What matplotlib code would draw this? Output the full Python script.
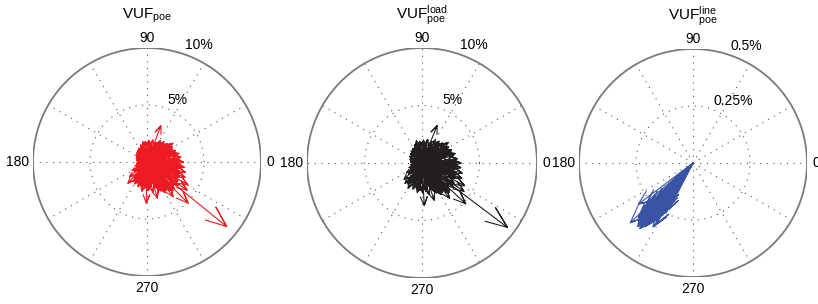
import numpy as np
import matplotlib.pyplot as plt

plt.rcParams['font.family'] = ['Liberation Sans', 'DejaVu Sans']
plt.rcParams['mathtext.fontset'] = 'custom'
plt.rcParams['mathtext.rm'] = 'Liberation Sans'
plt.rcParams['mathtext.default'] = 'regular'

# compass data: angle (deg) and magnitude (%) of every arrow
poe_ang = [0, 8, 15, 22, 30, 36, 42, 50, 58, 69,
           75, 85, 95, 101, 110, 120, 130, 138, 150, 160,
           172, 186, 198, 210, 220, 228, 235, 241, 250, 260,
           269, 275, 286, 295, 300, 307, 312, 315, 321, 325,
           331, 338, 345, 352,
           5, 18, 28, 45, 62, 80, 98, 115, 135, 155,
           175, 195, 215, 232, 248, 262, 278, 290, 302, 310,
           318, 334, 348, 356,
           10, 40, 70, 105, 145, 180, 225, 255, 285, 305, 330, 350,
           3, 12, 20, 26, 33, 39, 47, 54, 65, 78,
           90, 108, 125, 142, 165, 190, 205, 218, 238, 245,
           252, 258, 265, 272, 281, 292, 298, 304, 309, 316,
           323, 328, 336, 341, 343, 349, 354, 358,
           2, 14, 25, 35, 48, 57, 83, 112, 128, 170,
           200, 222, 243, 264, 280, 289, 297, 313, 327, 340]
poe_mag = [3.2, 3.0, 2.9, 2.7, 2.6, 2.8, 2.4, 2.3, 2.2, 3.4,
           2.0, 1.9, 1.8, 1.8, 1.6, 1.4, 1.3, 1.2, 1.1, 1.0,
           0.9, 0.9, 1.1, 1.5, 2.0, 2.5, 2.1, 2.2, 2.3, 2.6,
           3.6, 2.4, 3.3, 2.8, 3.1, 3.8, 3.4, 5.1, 9.0, 4.3,
           4.1, 3.6, 3.5, 3.3,
           2.4, 2.2, 2.1, 1.8, 1.6, 1.4, 1.3, 1.1, 0.9, 0.8,
           0.7, 0.8, 1.3, 1.7, 1.8, 2.0, 2.2, 2.4, 2.6, 2.8,
           3.0, 3.0, 2.6, 2.5,
           1.6, 1.5, 1.2, 1.0, 0.6, 0.5, 1.0, 1.4, 1.6, 1.9, 2.0, 1.8,
           2.9, 2.7, 2.6, 2.5, 2.5, 2.4, 2.2, 2.1, 1.9, 1.7,
           1.7, 1.5, 1.3, 1.1, 0.9, 0.8, 1.0, 1.4, 1.9, 2.0,
           2.0, 2.2, 2.3, 2.5, 2.7, 2.6, 2.9, 3.0, 3.2, 3.3,
           3.4, 3.2, 3.1, 3.0, 2.9, 2.8, 2.9, 2.8,
           2.0, 1.9, 1.8, 1.9, 1.7, 1.6, 1.2, 0.9, 1.0, 0.6,
           0.7, 1.2, 1.5, 1.7, 1.9, 2.1, 2.3, 2.5, 2.6, 2.4]

load_ang = [0, 7, 16, 24, 31, 38, 44, 52, 60, 68,
            76, 86, 96, 104, 112, 122, 132, 140, 152, 162,
            174, 188, 200, 212, 222, 230, 236, 241, 251, 261,
            273, 278, 288, 296, 301, 308, 313, 317, 323, 326,
            332, 339, 346, 353,
            4, 19, 29, 46, 63, 82, 99, 116, 136, 156,
            176, 196, 216, 233, 249, 263, 279, 291, 303, 311,
            319, 335, 347, 357,
            11, 41, 71, 106, 146, 181, 226, 256, 286, 306, 329, 351,
            2, 13, 21, 27, 34, 40, 48, 55, 66, 79,
            91, 109, 126, 143, 166, 191, 206, 219, 239, 246,
            253, 259, 266, 271, 282, 293, 299, 305, 310, 315,
            322, 328, 337, 342, 344, 350, 355, 359,
            1, 15, 26, 36, 49, 58, 84, 113, 129, 171,
            201, 223, 244, 265, 281, 290, 298, 314, 327, 341]
load_mag = [3.4, 3.1, 3.0, 2.8, 2.7, 2.9, 2.5, 2.4, 2.3, 3.5,
            2.1, 2.0, 1.9, 2.0, 1.7, 1.5, 1.4, 1.3, 1.2, 1.1,
            1.0, 1.0, 1.2, 1.6, 2.1, 2.3, 2.2, 2.5, 2.4, 2.6,
            3.7, 2.5, 3.4, 2.9, 3.2, 3.9, 3.5, 5.2, 9.3, 4.4,
            4.2, 3.7, 3.6, 3.4,
            2.5, 2.3, 2.2, 1.9, 1.7, 1.5, 1.4, 1.2, 1.0, 0.9,
            0.8, 0.9, 1.4, 1.8, 1.9, 2.1, 2.3, 2.5, 2.7, 2.9,
            3.1, 3.1, 2.7, 2.6,
            1.7, 1.6, 1.3, 1.1, 0.7, 0.6, 1.1, 1.5, 1.7, 2.0, 2.1, 1.9,
            3.0, 2.8, 2.7, 2.6, 2.6, 2.5, 2.3, 2.2, 2.0, 1.8,
            1.8, 1.6, 1.4, 1.2, 1.0, 0.9, 1.1, 1.5, 2.0, 2.1,
            2.1, 2.3, 2.4, 2.6, 2.8, 2.7, 3.0, 3.1, 3.3, 3.4,
            3.5, 3.3, 3.2, 3.1, 3.0, 2.9, 3.0, 2.9,
            2.1, 2.0, 1.9, 2.0, 1.8, 1.7, 1.3, 1.0, 1.1, 0.7,
            0.8, 1.3, 1.6, 1.8, 2.0, 2.2, 2.4, 2.6, 2.7, 2.5]

line_ang = [223.6, 217, 231, 228, 225, 233, 236, 238, 240, 230,
            226, 222, 220, 229, 234, 227, 232, 224, 237, 231,
            228, 235, 226, 230, 233, 239, 241, 243, 229, 225,
            232, 236, 227, 234, 238,
            230.5, 231.5, 232.5, 233.5, 234.5, 235.5, 228.5, 229.5, 226.5, 227.5,
            230, 231, 232, 233, 234, 235, 236, 237, 229, 228,
            227, 226, 225, 238, 239, 240, 231, 233, 235, 229]
line_mag = [0.38, 0.30, 0.37, 0.36, 0.34, 0.35, 0.30, 0.27, 0.19, 0.33,
            0.31, 0.28, 0.26, 0.34, 0.32, 0.29, 0.27, 0.25, 0.22, 0.36,
            0.32, 0.28, 0.23, 0.30, 0.34, 0.31, 0.24, 0.22, 0.25, 0.22,
            0.21, 0.20, 0.35, 0.26, 0.33,
            0.36, 0.35, 0.34, 0.33, 0.31, 0.29, 0.35, 0.34, 0.33, 0.32,
            0.30, 0.29, 0.28, 0.27, 0.26, 0.25, 0.24, 0.23, 0.31, 0.30,
            0.29, 0.28, 0.27, 0.26, 0.23, 0.21, 0.33, 0.31, 0.27, 0.37]


def compass(ax, ang, mag, color, rmax, rings, ring_labels, title):
    t = np.linspace(0, 2 * np.pi, 361)
    for r in rings[:-1]:
        ax.plot(r * np.cos(t), r * np.sin(t), color='#555555', lw=0.8,
                ls=(0, (1, 5)))
    for a in range(0, 360, 30):
        c, s = np.cos(np.deg2rad(a)), np.sin(np.deg2rad(a))
        ax.plot([0, rmax * c], [0, rmax * s], color='#555555', lw=0.8,
                ls=(0, (1, 5)))
    ax.plot(rmax * np.cos(t), rmax * np.sin(t), color='#7a7a7a', lw=1.3)

    # arrows the matlab compass way
    shape = np.array([0, 1, 0.8 + 0.08j, 1, 0.8 - 0.08j])
    xs, ys = [], []
    for a, m in zip(ang, mag):
        z = m * np.exp(1j * np.deg2rad(a)) * shape
        xs += list(z.real) + [np.nan]
        ys += list(z.imag) + [np.nan]
    ax.plot(xs, ys, color=color, lw=0.8)

    fs = 10
    ax.text(0, rmax * 1.03, '90', ha='center', va='bottom', fontsize=fs)
    ax.text(0, -rmax * 1.04, '270', ha='center', va='top', fontsize=fs)
    ax.text(rmax * 1.05, 0, '0', ha='left', va='center', fontsize=fs)
    ax.text(-rmax * 1.03, 0, '180', ha='right', va='center', fontsize=fs)
    for r, lab in zip(rings, ring_labels):
        rr = r + 0.075 * rmax
        ax.text(rr * np.cos(np.deg2rad(72)), rr * np.sin(np.deg2rad(72)), lab,
                ha='left', va='center', fontsize=fs)
    ax.text(0, rmax * 1.255, title, ha='center', va='baseline', fontsize=11)

    ax.set_xlim(-rmax, rmax)
    ax.set_ylim(-rmax, rmax)
    ax.axis('off')


W, H = 818, 304
fig = plt.figure(figsize=(W / 100, H / 100), dpi=100)

centers = [(147, 162, 114), (422, 163, 115), (693, 163, 114)]
axs = []
for cx, cy, R in centers:
    axs.append(fig.add_axes([(cx - R) / W, (H - cy - R) / H, 2 * R / W, 2 * R / H]))

compass(axs[0], poe_ang, poe_mag, '#ed1c24', 10, [5, 10], ['5%', '10%'],
        'VUF$_{poe}$')
compass(axs[1], load_ang, load_mag, '#231f20', 10, [5, 10], ['5%', '10%'],
        'VUF$_{poe}^{load}$')
compass(axs[2], line_ang, line_mag, '#3a53a4', 0.5, [0.25, 0.5], ['0.25%', '0.5%'],
        'VUF$_{poe}^{line}$')

fig.savefig('out.png', dpi=100)
